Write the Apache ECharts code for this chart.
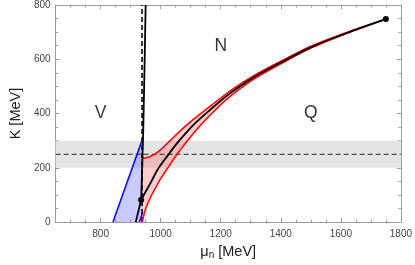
<!DOCTYPE html>
<html>
<head>
<meta charset="utf-8">
<script src="https://cdn.jsdelivr.net/npm/echarts@6/dist/echarts.min.js"></script>
<style>html,body{margin:0;padding:0;background:#fff;}#c{width:415px;height:265px;}</style>
</head>
<body>
<div id="c"></div>
<script>
// ---- data ----
const xMajorTicks = [800, 1000, 1200, 1400, 1600, 1800];
const xMinorTicks = [650, 700, 750, 800, 850, 900, 950, 1000, 1050, 1100, 1150, 1200, 1250, 1300, 1350, 1400, 1450, 1500, 1550, 1600, 1650, 1700, 1750, 1800];
const bandK = [200, 300];
const refK = 250;
const refMu = 938;

const blackMu = [917, 928, 935, 950, 970, 990, 1022, 1054, 1086, 1120, 1160, 1200, 1235, 1280, 1320, 1400, 1500, 1617, 1750];
const blackK  = [0, 50, 82, 112, 152, 194, 243, 290, 331, 370, 409, 447, 478, 512, 540, 588, 644, 696, 748];

const vertMu = [935, 942, 950];
const vertK  = [82, 341, 800];

const upperMu = [939, 955, 969, 985, 1001, 1033, 1065, 1091, 1130, 1160, 1200, 1235, 1280, 1320, 1400, 1500, 1617, 1750];
const upperK  = [234, 238, 244, 254, 268, 302, 336, 362, 397, 423, 457, 486, 519, 546, 593, 648, 698, 748];

const lowerMu = [939, 945, 953, 970, 985, 1000, 1022, 1054, 1086, 1120, 1160, 1200, 1235, 1280, 1320, 1400, 1500, 1617, 1750];
const lowerK  = [0, 30, 58, 100, 130, 160, 197, 249, 295, 341, 389, 433, 467, 504, 533, 583, 641, 694, 748];

const blueMu = [841, 941, 940, 929];
const blueK  = [0, 311, 35, 0];

const dotsMu = [935, 1750];
const dotsK  = [82, 748];

const regionNames = ['V', 'N', 'Q'];
const regionMu = [800, 1200, 1500];
const regionK  = [400, 650, 400];

// ---- helpers ----
const zip = (a, b) => a.map((v, i) => [v, b[i]]);
const FONT = 'Liberation Sans, Arial, sans-serif';
const FRAME = '#9a9a9a';

const chart = echarts.init(document.getElementById('c'), null, {renderer: 'canvas'});

function polygonSeries(pts, fill) {
  return {
    type: 'custom',
    xAxisIndex: 0, yAxisIndex: 0,
    data: [[pts[0][0], pts[0][1]]],
    silent: true,
    renderItem: function (params, api) {
      return {
        type: 'polygon',
        shape: {points: pts.map(p => api.coord(p))},
        style: {fill: fill}
      };
    }
  };
}

const pinkPts = zip(upperMu, upperK).concat(zip(lowerMu, lowerK).reverse());
const bluePts = zip(blueMu, blueK);

const xAxes = [
  {type: 'value', min: 650, max: 1800, position: 'bottom', gridIndex: 0,
   axisLine: {show: true, onZero: false, lineStyle: {color: FRAME}},
   axisTick: {show: true, inside: true, length: 4, customValues: xMajorTicks, lineStyle: {color: FRAME}},
   axisLabel: {show: true, customValues: xMajorTicks, formatter: v => String(v), color: '#444', fontSize: 10, fontFamily: FONT, margin: 7},
   splitLine: {show: false},
   name: '{a|μ}{s|n}{a| [MeV]}', nameLocation: 'middle', nameGap: 18,
   nameTextStyle: {rich: {a: {fontSize: 14.5, fontFamily: FONT, color: '#222'}, s: {fontSize: 10, fontFamily: FONT, color: '#222', verticalAlign: 'bottom', padding: [7, 0, 0, 0]}}}
  },
  {type: 'value', min: 650, max: 1800, position: 'bottom', gridIndex: 0,
   axisLine: {show: false, onZero: false},
   axisTick: {show: true, inside: true, length: 2.5, customValues: xMinorTicks, lineStyle: {color: FRAME}},
   axisLabel: {show: false}, splitLine: {show: false}},
  {type: 'value', min: 650, max: 1800, position: 'top', gridIndex: 0,
   axisLine: {show: true, onZero: false, lineStyle: {color: FRAME}},
   axisTick: {show: true, inside: true, length: 4, customValues: xMajorTicks, lineStyle: {color: FRAME}},
   axisLabel: {show: false}, splitLine: {show: false}},
  {type: 'value', min: 650, max: 1800, position: 'top', gridIndex: 0,
   axisLine: {show: false, onZero: false},
   axisTick: {show: true, inside: true, length: 2.5, customValues: xMinorTicks, lineStyle: {color: FRAME}},
   axisLabel: {show: false}, splitLine: {show: false}}
];

const yAxes = [
  {type: 'value', min: 0, max: 800, interval: 200, position: 'left',
   axisLine: {show: true, onZero: false, lineStyle: {color: FRAME}},
   axisTick: {show: true, inside: true, length: 4, lineStyle: {color: FRAME}},
   minorTick: {show: true, splitNumber: 4, length: 2.5, lineStyle: {color: FRAME}},
   axisLabel: {color: '#444', fontSize: 10, fontFamily: FONT, margin: 5, formatter: v => String(v)},
   splitLine: {show: false},
   name: 'K [MeV]', nameLocation: 'middle', nameGap: 27, nameRotate: 90,
   nameTextStyle: {fontSize: 14.5, fontFamily: FONT, color: '#222'}
  },
  {type: 'value', min: 0, max: 800, interval: 200, position: 'right',
   axisLine: {show: true, onZero: false, lineStyle: {color: FRAME}},
   axisTick: {show: true, inside: true, length: 4, lineStyle: {color: FRAME}},
   minorTick: {show: true, splitNumber: 4, length: 2.5, lineStyle: {color: FRAME}},
   axisLabel: {show: false}, splitLine: {show: false}}
];

const option = {
  animation: false,
  backgroundColor: '#fff',
  grid: {left: 45, right: 10, top: 5, bottom: 42, containLabel: false},
  xAxis: xAxes,
  yAxis: yAxes,
  series: [
    {
      type: 'custom', xAxisIndex: 0, yAxisIndex: 0, silent: true,
      data: [[650, bandK[0]]],
      renderItem: function (params, api) {
        const p0 = api.coord([650, bandK[1]]);
        const p1 = api.coord([1800, bandK[0]]);
        return {type: 'rect', shape: {x: p0[0], y: p0[1], width: p1[0] - p0[0], height: p1[1] - p0[1]},
                style: {fill: '#e4e4e4'}};
      }
    },
    polygonSeries(bluePts, 'rgba(60,60,255,0.27)'),
    polygonSeries(pinkPts, 'rgba(255,60,60,0.25)'),
    {type: 'line', data: [[650, refK], [1800, refK]], showSymbol: false, silent: true,
     lineStyle: {color: '#222', width: 1.1, type: [5, 3]}},
    {type: 'line', data: [[refMu, 0], [refMu, 800]], showSymbol: false, silent: true,
     lineStyle: {color: '#000', width: 1.6, type: [5, 3]}},
    {type: 'line', data: zip(upperMu, upperK), showSymbol: false, smooth: 0.3, silent: true,
     lineStyle: {color: '#ff0000', width: 1.5}},
    {type: 'line', data: zip(lowerMu, lowerK), showSymbol: false, smooth: 0.3, silent: true,
     lineStyle: {color: '#ff0000', width: 1.5}},
    {type: 'line', data: [bluePts[0], bluePts[1]], showSymbol: false, silent: true,
     lineStyle: {color: '#0000ff', width: 1.5}},
    {type: 'line', data: [bluePts[3], bluePts[2]], showSymbol: false, silent: true,
     lineStyle: {color: '#0000ff', width: 1.5}},
    {type: 'line', data: zip(blackMu, blackK), showSymbol: false, smooth: 0.3, silent: true,
     lineStyle: {color: '#000', width: 1.8}},
    {type: 'line', data: zip(vertMu, vertK), showSymbol: false, smooth: 0.3, silent: true,
     lineStyle: {color: '#000', width: 1.8}},
    {type: 'scatter', data: zip(dotsMu, dotsK), symbolSize: 6, silent: true,
     itemStyle: {color: '#000', opacity: 1}, z: 5},
    {type: 'scatter', symbolSize: 0, silent: true,
     data: regionNames.map((n, i) => ({value: [regionMu[i], regionK[i]], name: n})),
     label: {show: true, position: 'inside', formatter: p => p.name, fontSize: 17.5, fontFamily: FONT, color: '#000'}}
  ]
};
chart.setOption(option);
</script>
</body>
</html>
